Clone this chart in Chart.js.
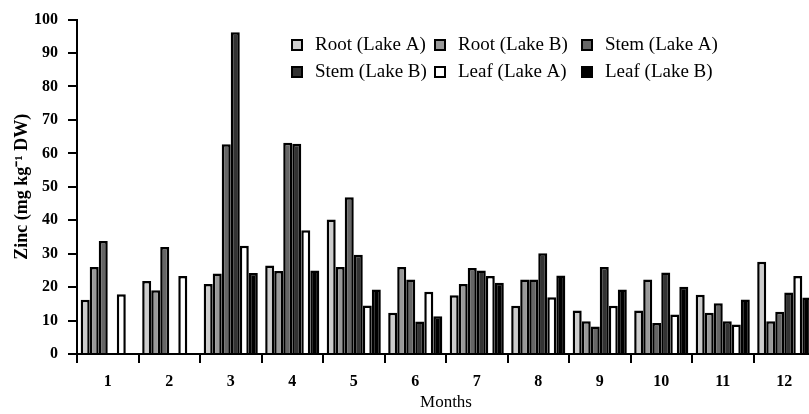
<!DOCTYPE html>
<html>
<head>
<meta charset="utf-8">
<script src="https://cdn.jsdelivr.net/npm/chart.js@4.4.1/dist/chart.umd.min.js"></script>
<style>
  html, body { margin: 0; padding: 0; background: #fff; overflow: hidden; }
  #wrap { width: 816px; height: 414px; }
</style>
</head>
<body>
<div id="wrap"><canvas id="zinc" width="816" height="414"></canvas></div>
<script>
const months = ['1', '2', '3', '4', '5', '6', '7', '8', '9', '10', '11', '12'];

// Zinc (mg kg-1 DW)
const root_a = [16.2, 21.8, 20.9, 26.5, 40.2, 12.3, 17.6, 14.4, 13.0, 13.0, 17.7, 27.6];
const root_b = [26.0, 19.1, 24.1, 24.8, 26.0, 26.0, 20.9, 22.3, 9.8, 22.3, 12.3, 9.8];
const stem_a = [33.8, 32.0, 62.7, 63.2, 46.9, 22.3, 25.7, 22.3, 8.2, 9.3, 15.2, 12.6];
const stem_b = [0, 0, 96.2, 62.9, 29.7, 9.7, 25.0, 30.1, 26.0, 24.4, 9.8, 18.4];
const leaf_a = [17.9, 23.3, 32.4, 37.0, 14.5, 18.6, 23.3, 17.0, 14.4, 11.8, 8.8, 23.3];
const leaf_b = [0, 0, 24.2, 25.0, 19.3, 11.3, 21.3, 23.5, 19.3, 20.1, 16.3, 16.9];

const y_ticks = [0, 10, 20, 30, 40, 50, 60, 70, 80, 90, 100];

const serif = "'Liberation Serif', 'Times New Roman', serif";

// legend drawn as a 3 x 2 grid like in the figure
const gridLegend = {
    id: 'gridLegend',
    afterDraw(chart) {
        const c = chart.ctx;
        const colX = [292, 435, 582];
        const rowY = [45, 72];
        c.save();
        c.font = '19px ' + serif;
        c.textBaseline = 'middle';
        chart.data.datasets.forEach(function(ds, i) {
            const x = colX[i % 3];
            const y = rowY[Math.floor(i / 3)];
            c.fillStyle = ds.backgroundColor;
            c.fillRect(x, y - 5, 10, 10);
            c.strokeStyle = '#000';
            c.lineWidth = 2;
            c.strokeRect(x, y - 5, 10, 10);
            c.fillStyle = '#000';
            c.fillText(ds.label, x + 23, y);
        });
        c.restore();
    }
};

function ds(label, data, color) {
    return {
        label: label,
        data: data,
        backgroundColor: color,
        borderColor: '#000',
        borderWidth: 2.5,
        borderSkipped: 'bottom',
        barPercentage: 1.0,
        categoryPercentage: 0.88
    };
}

new Chart(document.getElementById('zinc'), {
    type: 'bar',
    data: {
        labels: months,
        datasets: [
            ds('Root (Lake A)', root_a, '#cccccc'),
            ds('Root (Lake B)', root_b, '#999999'),
            ds('Stem (Lake A)', stem_a, '#666666'),
            ds('Stem (Lake B)', stem_b, '#333333'),
            ds('Leaf (Lake A)', leaf_a, '#ffffff'),
            ds('Leaf (Lake B)', leaf_b, '#000000')
        ]
    },
    options: {
        responsive: false,
        animation: false,
        layout: { padding: { top: 15, right: 1, left: 0, bottom: 0 } },
        plugins: {
            legend: { display: false },
            tooltip: { enabled: false }
        },
        scales: {
            x: {
                grid: {
                    offset: true,
                    drawOnChartArea: false,
                    color: '#000',
                    lineWidth: 2,
                    tickLength: 9
                },
                border: { color: '#000', width: 2 },
                ticks: {
                    color: '#000',
                    padding: 9,
                    font: { family: serif, size: 16, weight: 'bold' },
                    maxRotation: 0
                },
                title: {
                    display: true,
                    text: 'Months',
                    color: '#000',
                    padding: { top: 0, bottom: 1 },
                    font: { family: serif, size: 17 }
                },
                afterFit(s) { s.height = 60; }
            },
            y: {
                min: 0,
                max: 100,
                afterBuildTicks(s) { s.ticks = y_ticks.map(v => ({ value: v })); },
                grid: {
                    drawOnChartArea: false,
                    color: '#000',
                    lineWidth: 2,
                    tickLength: 9
                },
                border: { color: '#000', width: 2 },
                ticks: {
                    color: '#000',
                    padding: 10,
                    font: { family: serif, size: 16, weight: 'bold' }
                },
                title: {
                    display: true,
                    text: 'Zinc (mg kg⁻¹ DW)',
                    color: '#000',
                    padding: { top: 12, bottom: 0 },
                    font: { family: serif, size: 18, weight: 'bold' }
                },
                afterFit(s) { s.width = 77; }
            }
        }
    },
    plugins: [gridLegend]
});
</script>
</body>
</html>
